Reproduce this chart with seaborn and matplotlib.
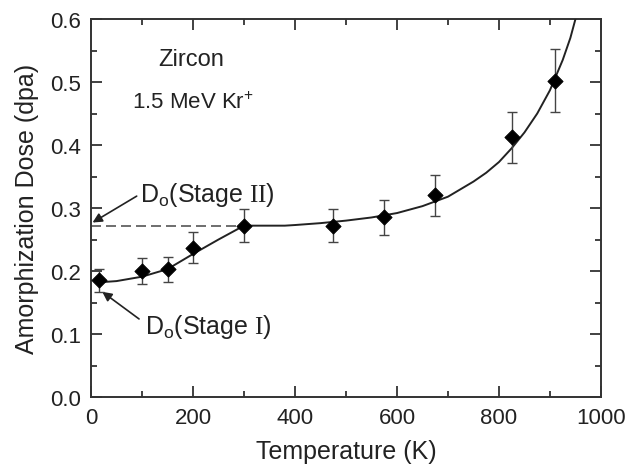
import matplotlib
matplotlib.use("Agg")
import matplotlib.pyplot as plt
import pandas as pd
import seaborn as sns
from matplotlib.ticker import MultipleLocator

# measured points
temperature = [15, 100, 150, 200, 300, 475, 575, 675, 825, 910]
dose = [0.185, 0.200, 0.203, 0.237, 0.272, 0.272, 0.285, 0.320, 0.412, 0.502]
dose_err = [0.018, 0.021, 0.020, 0.025, 0.026, 0.026, 0.028, 0.032, 0.041, 0.050]

# fitted curve
fit_temperature = [15, 50, 100, 150, 200, 250, 300, 350, 380, 400, 450, 500, 550,
                   600, 650, 700, 750, 775, 800, 825, 850, 875, 900, 925, 940, 950]
fit_dose = [0.182, 0.184, 0.191, 0.203, 0.227, 0.250, 0.272, 0.272, 0.272, 0.273,
            0.276, 0.280, 0.285, 0.292, 0.303, 0.318, 0.342, 0.356, 0.373, 0.395,
            0.420, 0.450, 0.487, 0.535, 0.570, 0.600]

stage2_level = 0.272
stage2_end = 300

sns.set_theme(style="ticks")
plt.rcParams["font.family"] = ["Liberation Sans", "DejaVu Sans"]
plt.rcParams["mathtext.fontset"] = "custom"
plt.rcParams["mathtext.rm"] = "Liberation Serif"
plt.rcParams["mathtext.sf"] = "Liberation Sans"
plt.rcParams["mathtext.it"] = "Liberation Sans:italic"

ink = "#222222"

fig = plt.figure(figsize=(6.26, 4.77), dpi=100)
ax = fig.add_axes([0.1454, 0.1656, 0.8146, 0.7924])

points = pd.DataFrame({"T": temperature, "D": dose, "err": dose_err})
fit = pd.DataFrame({"T": fit_temperature, "D": fit_dose})

ax.plot([0, stage2_end], [stage2_level, stage2_level], ls=(0, (6, 3)),
        color="#555555", lw=1.2, zorder=2)
sns.lineplot(data=fit, x="T", y="D", ax=ax, color=ink, lw=1.4, sort=False,
             estimator=None, zorder=3)
ax.errorbar(points["T"], points["D"], yerr=points["err"], fmt="none",
            ecolor="#444444", elinewidth=1.0, capsize=3.5, capthick=1.0, zorder=4)
sns.scatterplot(data=points, x="T", y="D", ax=ax, marker="D", s=60,
                color="black", edgecolor="black", zorder=5)

ax.set_xlim(0, 1000)
ax.set_ylim(0.0, 0.6)
ax.xaxis.set_major_locator(MultipleLocator(200))
ax.xaxis.set_minor_locator(MultipleLocator(100))
ax.yaxis.set_major_locator(MultipleLocator(0.1))
ax.yaxis.set_minor_locator(MultipleLocator(0.05))
ax.yaxis.set_major_formatter(matplotlib.ticker.FormatStrFormatter("%.1f"))
ax.tick_params(which="both", direction="in", top=True, right=True,
               color="#333333", labelsize=16, labelcolor=ink, pad=7)
ax.tick_params(which="major", length=8, width=1.3)
ax.tick_params(which="minor", length=4.5, width=1.3)
for s in ax.spines.values():
    s.set_linewidth(1.4)
    s.set_color("#333333")

ax.set_xlabel("Temperature (K)", fontsize=18, color=ink, labelpad=8)
ax.set_ylabel("Amorphization Dose (dpa)", fontsize=18, color=ink, labelpad=8)

ax.text(132, 0.537, "Zircon", fontsize=17, color=ink, va="center")
ax.text(80, 0.468, "1.5 MeV Kr$^{\\mathsf{+}}$", fontsize=16, color=ink, va="center")

ax.annotate("D$_{\\mathsf{o}}$(Stage $\\mathrm{II}$)", xy=(3, 0.277), xytext=(96, 0.322),
            fontsize=18, color=ink, va="center",
            arrowprops=dict(arrowstyle="-|>", color=ink, lw=1.2,
                            mutation_scale=14, shrinkA=0, shrinkB=0,
                            relpos=(0, 0.5)))
ax.annotate("D$_{\\mathsf{o}}$(Stage $\\mathrm{I}$)", xy=(22, 0.167), xytext=(105, 0.113),
            fontsize=18, color=ink, va="center",
            arrowprops=dict(arrowstyle="-|>", color=ink, lw=1.2,
                            mutation_scale=14, shrinkA=2, shrinkB=0,
                            relpos=(0, 0.6)))

fig.savefig("out.png", dpi=100)
